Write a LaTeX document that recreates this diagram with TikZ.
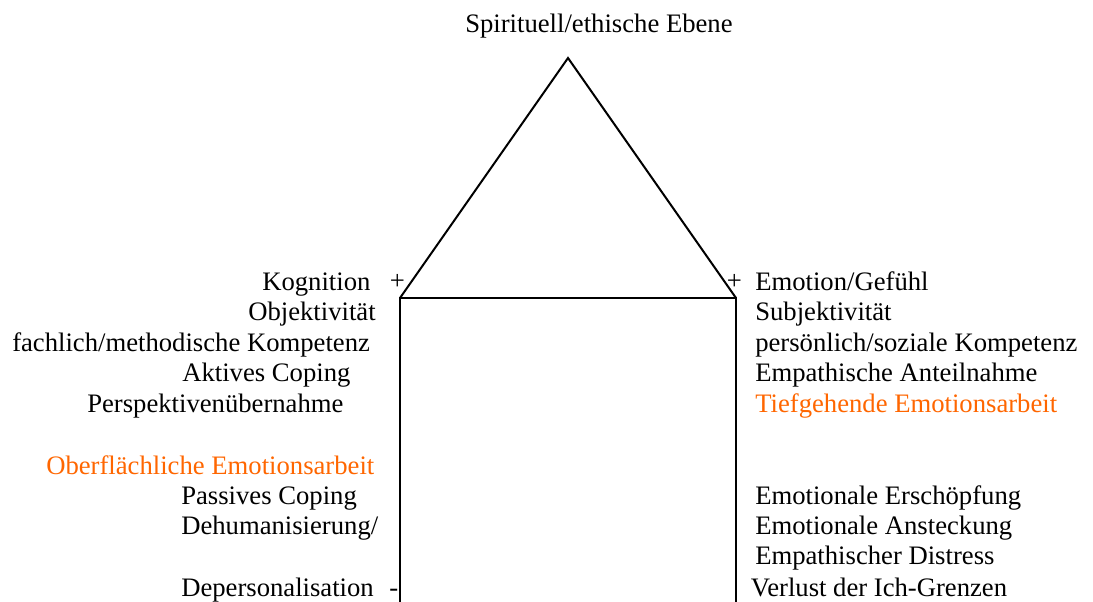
\documentclass[tikz,border=0pt]{standalone}
\usepackage{fontspec}
\setmainfont{Liberation Serif}
\definecolor{orangetxt}{RGB}{255,102,0}
\begin{document}
\begin{tikzpicture}[x=0.75pt,y=-0.75pt,
  lbl/.style={anchor=base west,inner sep=0pt,font=\fontsize{20}{24}\selectfont},
  orangelbl/.style={lbl,text=orangetxt},
  wall/.style={line width=1.5pt,line join=miter}]
\useasboundingbox (0,0) rectangle (1093,602);
% structure
\coordinate (apex) at (568,58);
\coordinate (bl) at (400,298);
\coordinate (br) at (736,298);
\coordinate (blb) at (400,602);
\coordinate (brb) at (736,602);
\draw[wall] (bl) -- (apex) -- (br);
\draw[wall] (blb) -- (bl) -- (br) -- (brb);
% top
\node[lbl] (top) at (465,32.3) {Spirituell/ethische Ebene};
% signs
\node[lbl] (pl) at (389.5,290) {+};
\node[lbl] (pr) at (726.5,290) {+};
\node[lbl] (mi) at (389,596.7) {-};
% left
\node[lbl] (l1) at (262,290.5) {Kognition};
\node[lbl] (l2) at (248,321) {Objektivität};
\node[lbl] (l3) at (12,351.5) {fachlich/methodische Kompetenz};
\node[lbl] (l4) at (182,382) {Aktives Coping};
\node[lbl] (l5) at (87,412) {Perspektivenübernahme};
\node[orangelbl] (l6) at (46,474.3) {Oberflächliche Emotionsarbeit};
\node[lbl] (l7) at (181,504.3) {Passives Coping};
\node[lbl] (l8) at (181,534.3) {Dehumanisierung/};
\node[lbl] (l9) at (181,596.7) {Depersonalisation};
% right
\node[lbl] (r1) at (755,290.5) {Emotion/Gefühl};
\node[lbl] (r2) at (755,321) {Subjektivität};
\node[lbl] (r3) at (755,351.5) {persönlich/soziale Kompetenz};
\node[lbl] (r4) at (755,382) {Empathische Anteilnahme};
\node[orangelbl] (r5) at (755,412) {Tiefgehende Emotionsarbeit};
\node[lbl] (r6) at (755,504.3) {Emotionale Erschöpfung};
\node[lbl] (r7) at (755,534.3) {Emotionale Ansteckung};
\node[lbl] (r8) at (755,564.3) {Empathischer Distress};
\node[lbl] (r9) at (750.7,596.7) {Verlust der Ich-Grenzen};
\end{tikzpicture}
\end{document}
